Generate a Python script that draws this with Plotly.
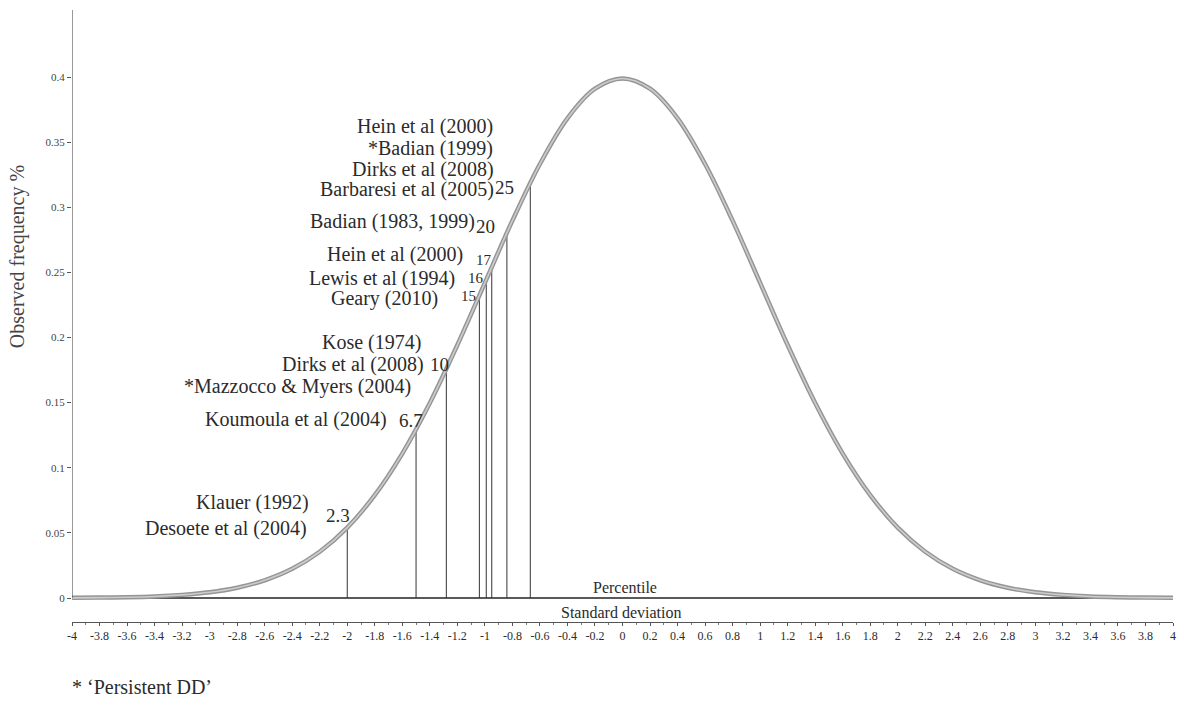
import plotly.graph_objects as go

# ---------------- data ----------------
sd_x = [-4.0, -3.8, -3.6, -3.4, -3.2, -3.0, -2.8, -2.6, -2.4, -2.2, -2.0,
        -1.8, -1.6, -1.4, -1.2, -1.0, -0.8, -0.6, -0.4, -0.2, 0.0,
        0.2, 0.4, 0.6, 0.8, 1.0, 1.2, 1.4, 1.6, 1.8, 2.0,
        2.2, 2.4, 2.6, 2.8, 3.0, 3.2, 3.4, 3.6, 3.8, 4.0]
freq_y = [0.0001, 0.0003, 0.0006, 0.0012, 0.0024, 0.0044, 0.0079, 0.0136, 0.0224, 0.0355, 0.0540,
          0.0790, 0.1109, 0.1497, 0.1942, 0.2420, 0.2897, 0.3332, 0.3683, 0.3910, 0.3989,
          0.3910, 0.3683, 0.3332, 0.2897, 0.2420, 0.1942, 0.1497, 0.1109, 0.0790, 0.0540,
          0.0355, 0.0224, 0.0136, 0.0079, 0.0044, 0.0024, 0.0012, 0.0006, 0.0003, 0.0001]

percentile_labels = ["2.3", "6.7", "10", "15", "16", "17", "20", "25"]
cutoff_sd = [-2.0, -1.5, -1.28, -1.04, -0.99, -0.95, -0.84, -0.67]
cutoff_height = [0.0540, 0.1295, 0.1758, 0.2323, 0.2444, 0.2541, 0.2803, 0.3187]

study_labels = [
    "Hein et al (2000)", "*Badian (1999)", "Dirks et al (2008)", "Barbaresi et al (2005)",
    "Badian (1983, 1999)", "Hein et al (2000)", "Lewis et al (1994)", "Geary (2010)",
    "Kose (1974)", "Dirks et al (2008)", "*Mazzocco & Myers (2004)", "Koumoula et al (2004)",
    "Klauer (1992)", "Desoete et al (2004)",
]

y_ticks = [0, 0.05, 0.1, 0.15, 0.2, 0.25, 0.3, 0.35, 0.4]
x_ticks = [round(-4 + 0.2 * i, 1) for i in range(41)]

# ---------------- layout helpers (pixel -> axis units) ----------------
L, R, T, B = 72, 8, 10, 83
W, H = 1184, 705
Y0PX, YSCALE = 598, 1302.5
Y_MIN, Y_MAX = (Y0PX - (H - B)) / YSCALE, (Y0PX - T) / YSCALE
PLOT_W, PLOT_H = W - L - R, H - T - B


def px2x(px):
    return (px - L) / (PLOT_W / 8.0) - 4


def py2y(py):
    return (Y0PX - py) / YSCALE


SERIF = "Liberation Serif"
TXT = "#2b2b2b"

fig = go.Figure()

# baseline (percentile line)
fig.add_trace(go.Scatter(x=[sd_x[0], sd_x[-1]], y=[0, 0], mode="lines",
                         line=dict(color="#222", width=1.6), hoverinfo="skip", showlegend=False))

# cutoff verticals
vx, vy = [], []
for z, h in zip(cutoff_sd, cutoff_height):
    vx += [z, z, None]
    vy += [0, h, None]
fig.add_trace(go.Scatter(x=vx, y=vy, mode="lines", line=dict(color="#333", width=1),
                         hoverinfo="skip", showlegend=False))

# normal curve (hatched grey look)
fig.add_trace(go.Scatter(x=sd_x, y=freq_y, mode="lines", line=dict(color="#959595", width=4.5, shape="spline"),
                         hoverinfo="skip", showlegend=False))
fig.add_trace(go.Scatter(x=sd_x, y=freq_y, mode="lines", line=dict(color="#cccccc", width=1.6, shape="spline"),
                         hoverinfo="skip", showlegend=False))

# y-axis line drawn from 0 upward
fig.add_shape(type="line", x0=-4, x1=-4, y0=0, y1=Y_MAX, xref="x", yref="y",
              line=dict(color="#555", width=1.2))

# study labels (right edge px, centre y px)
study_pos = [(496, 126), (496, 148), (497, 169), (497, 189),
             (478, 221), (466, 254), (458, 278), (441, 298),
             (424, 342), (427, 364), (414, 386), (390, 419),
             (312, 502), (310, 528)]
for txt, (px, py) in zip(study_labels, study_pos):
    fig.add_annotation(x=px2x(px), y=py2y(py), text=txt, showarrow=False,
                       xanchor="right", yanchor="middle",
                       font=dict(family=SERIF, size=20, color=TXT))

# percentile numbers (centre x px, centre y px, font size)
pct_pos = [(339, 515, 19), (412, 420, 19), (440, 364, 19), (470, 296, 15),
           (477, 278, 15), (485, 260, 15), (487, 226, 19), (506, 187, 19)]
for txt, (px, py, fs) in zip(percentile_labels, pct_pos):
    fig.add_annotation(x=px2x(px), y=py2y(py), text=txt, showarrow=False,
                       xanchor="center", yanchor="middle",
                       font=dict(family=SERIF, size=fs, color=TXT))

fig.add_annotation(x=px2x(627), y=py2y(587), text="Percentile", showarrow=False,
                   xanchor="center", yanchor="middle", font=dict(family=SERIF, size=16, color=TXT))
fig.add_annotation(x=px2x(622), y=py2y(612), text="Standard deviation", showarrow=False,
                   xanchor="center", yanchor="middle", font=dict(family=SERIF, size=16, color=TXT))
fig.add_annotation(x=(70 - L) / PLOT_W, y=(H - B - 687) / PLOT_H, xref="paper", yref="paper",
                   text="* \u2018Persistent DD\u2019", showarrow=False, xanchor="left", yanchor="middle",
                   font=dict(family=SERIF, size=20, color=TXT))
# y-axis title
fig.add_annotation(x=(17 - L) / PLOT_W, y=py2y(257), xref="paper", yref="y",
                   text="Observed frequency %", showarrow=False, textangle=-90,
                   xanchor="center", yanchor="middle",
                   font=dict(family=SERIF, size=20, color="#444"))

fig.update_layout(
    width=W, height=H,
    margin=dict(l=L, r=R, t=T, b=B),
    paper_bgcolor="white", plot_bgcolor="white",
    xaxis=dict(range=[-4, 4], tickvals=x_ticks, ticktext=[("%g" % v) for v in x_ticks],
               showgrid=False, zeroline=False, showline=True, linecolor="#555", linewidth=1,
               ticks="outside", ticklen=3, tickcolor="#555",
               minor=dict(dtick=0.1, tick0=-4, ticks="outside", ticklen=2, tickcolor="#777"),
               tickfont=dict(family=SERIF, size=12, color=TXT)),
    yaxis=dict(range=[Y_MIN, Y_MAX], tickvals=y_ticks, ticktext=[("%g" % v) for v in y_ticks],
               showgrid=False, zeroline=False, showline=False,
               ticks="outside", ticklen=4, tickcolor="#555",
               tickfont=dict(family=SERIF, size=11, color="#444")),
)

fig.write_html("out.html", config={"displayModeBar": False},
               post_script="document.body.style.margin='0';document.body.style.padding='0';")
